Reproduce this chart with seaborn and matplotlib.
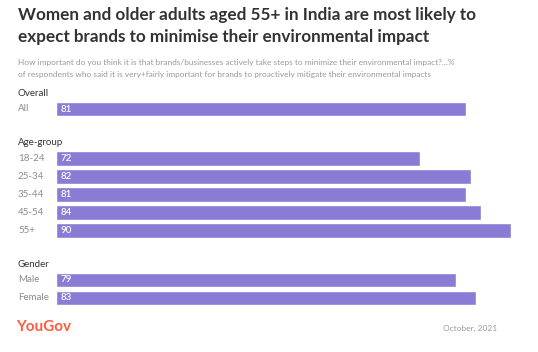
import matplotlib
matplotlib.use("Agg")
import matplotlib.pyplot as plt
import seaborn as sns
import pandas as pd

# data
groups = ["Overall", "Age-group", "Gender"]
overall_labels = ["All"]
overall_values = [81]
age_labels = ["18-24", "25-34", "35-44", "45-54", "55+"]
age_values = [72, 82, 81, 84, 90]
gender_labels = ["Male", "Female"]
gender_values = [79, 83]

BAR = "#8a7cd4"
GRAY = "#8c8c8c"

sns.set_theme(style="white")
plt.rcParams["font.family"] = ["Lato", "DejaVu Sans"]

# build rows with a gap between groups
rows = []
headers = []
pos = 0.0
for g, labs, vals in zip(groups,
                         [overall_labels, age_labels, gender_labels],
                         [overall_values, age_values, gender_values]):
    headers.append((g, pos))
    for lab, v in zip(labs, vals):
        rows.append({"group": g, "label": lab, "value": v, "pos": pos})
        pos += 1
    pos += 1.75
df = pd.DataFrame(rows)

fig = plt.figure(figsize=(5.38, 3.52), dpi=100)
W, H = 538, 352
top_px, bot_px, left_px = 85, 312, 56
ax = fig.add_axes([left_px / W, 1 - bot_px / H, 1 - left_px / W, (bot_px - top_px) / H])

sns.barplot(data=df, x="value", y="pos", orient="h", native_scale=True,
            color=BAR, saturation=1, width=0.83, ax=ax)

pitch = 18.0
ax.set_ylim((bot_px - 109) / pitch, (top_px - 109) / pitch)
ax.set_xlim(0, (W - left_px) / 5.06)
ax.axis("off")

# labels
for _, r in df.iterrows():
    ax.text(0.9, r["pos"], str(r["value"]), color="white", fontsize=7,
            va="center", ha="left", fontweight="semibold")
    fig.text(18 / W, 1 - (109 + r["pos"] * pitch) / H, r["label"], color=GRAY,
             fontsize=7, va="center", ha="left")
for g, p in headers:
    fig.text(18 / W, 1 - (109 + (p - 0.88) * pitch) / H, g, color="#333333",
             fontsize=7, va="center", ha="left")

fig.text(18 / W, 1 - 15 / H,
         "Women and older adults aged 55+ in India are most likely to",
         fontsize=12.3, fontweight="bold", color="#333333", va="center", ha="left")
fig.text(18 / W, 1 - 37 / H,
         "expect brands to minimise their environmental impact",
         fontsize=12.3, fontweight="bold", color="#333333", va="center", ha="left")
fig.text(18 / W, 1 - 62 / H,
         "How important do you think it is that brands/businesses actively take steps to minimize their environmental impact?...%",
         fontsize=5.95, color="#999999", va="center", ha="left")
fig.text(18 / W, 1 - 74 / H,
         "of respondents who said it is very+fairly important for brands to proactively mitigate their environmental impacts",
         fontsize=5.95, color="#999999", va="center", ha="left")

fig.text(16 / W, 1 - 327 / H, "YouGov", fontsize=11, fontweight="bold",
         color="#ff5a42", va="center", ha="left")
fig.text(497 / W, 1 - 328 / H, "October, 2021", fontsize=6, color="#999999",
         va="center", ha="right")

fig.savefig("out.png", dpi=100)
